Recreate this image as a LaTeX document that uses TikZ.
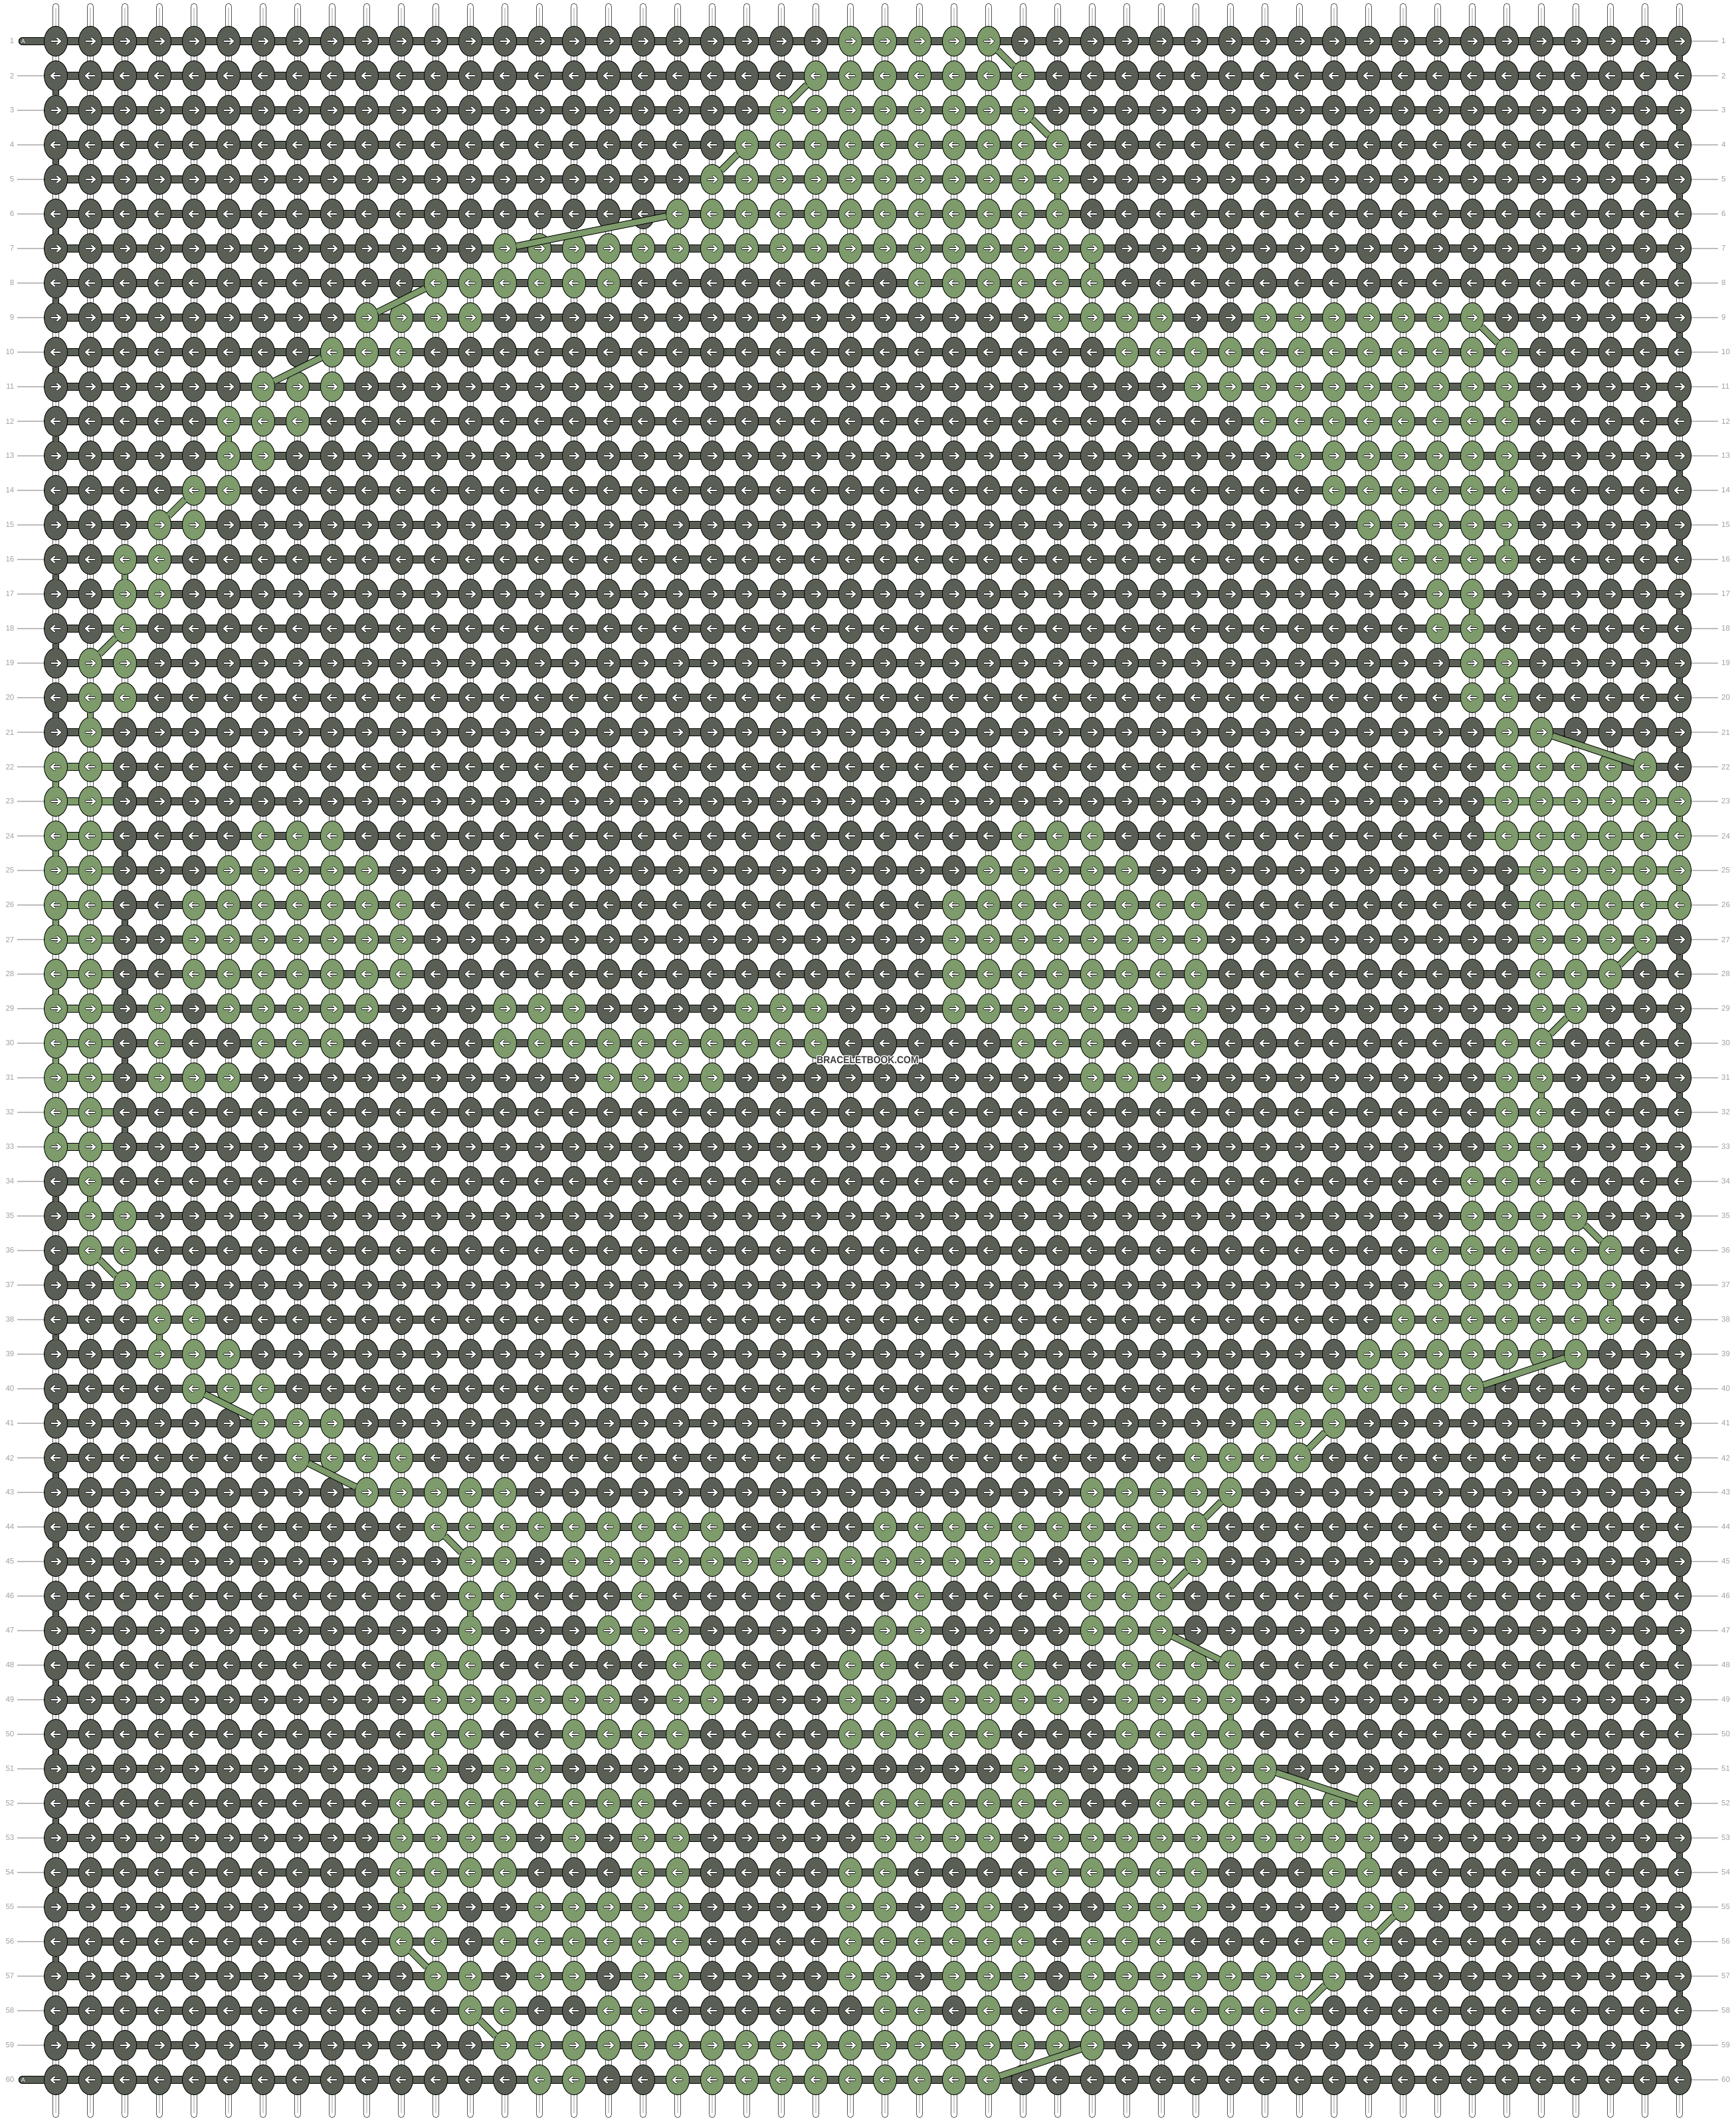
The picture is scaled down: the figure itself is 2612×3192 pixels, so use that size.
\documentclass[tikz,border=0pt]{standalone}
\usepackage{fontspec}
\setmainfont{Liberation Sans}
\definecolor{kdark}{HTML}{5A5F56}
\definecolor{kgreen}{HTML}{7D9B6B}
\definecolor{lblgray}{HTML}{A0A0A0}
\definecolor{lnggray}{HTML}{BDBDBD}
\definecolor{strout}{HTML}{555555}
\definecolor{strmid}{HTML}{D0D0D0}
\definecolor{wmdark}{HTML}{3C3C3C}
\tikzset{
  knotr/.style={x radius=17.5pt, y radius=22.5pt},
  knotdark/.style={fill=kdark, draw=black, line width=0.9pt},
  knotgreen/.style={fill=kgreen, draw=black, line width=0.9pt},
  barout/.style={draw=black, line width=12.5pt},
  bardark/.style={draw=kdark, line width=10.3pt},
  bargreen/.style={draw=kgreen, line width=10.3pt},
  conout/.style={draw=black, line width=10.5pt},
  condark/.style={draw=kdark, line width=8.5pt},
  congreen/.style={draw=kgreen, line width=8.5pt},
  strouter/.style={draw=strout, line width=10.5pt, line cap=round},
  strinner/.style={draw=white, line width=8.5pt, line cap=round},
  strcenter/.style={draw=strmid, line width=1.2pt},
  arrowbg/.style={draw=black, line width=3.6pt, line cap=round, line join=round},
  arrowfg/.style={draw=white, line width=2.3pt, line cap=round, line join=round},
  lblline/.style={draw=lnggray, line width=1.2pt},
  lbltext/.style={text=lblgray, font=\fontsize{11.5}{12}\selectfont, inner sep=0pt},
  leadout/.style={draw=black, line width=12.5pt, line cap=round},
  leadin/.style={draw=kdark, line width=10.3pt, line cap=round},
  leadtext/.style={text=white, font=\fontsize{9}{10}\selectfont, inner sep=0pt},
  wmark/.style={font=\fontsize{15.3}{16}\selectfont\bfseries, inner sep=0pt},
}
\ExplSyntaxOn
\intarray_new:Nn \g_pat_cell_intarray {2880}
\intarray_new:Nn \g_pat_gmin_intarray {60}
\intarray_new:Nn \g_pat_gmax_intarray {60}
\intarray_new:Nn \g_pat_dmin_intarray {60}
\intarray_new:Nn \g_pat_dmax_intarray {60}
\seq_new:N \l_pat_split_seq
\int_new:N \l_pat_a_int
\int_new:N \l_pat_b_int
\tl_new:N \l_pat_fg_tl
\tl_new:N \l_pat_dk_tl
\tl_new:N \l_pat_gr_tl
\tl_new:N \l_pat_seg_tl
\fp_new:N \l_pat_xa_fp
\fp_new:N \l_pat_ya_fp
\fp_new:N \l_pat_xb_fp
\fp_new:N \l_pat_yb_fp
\fp_new:N \l_pat_dx_fp
\fp_new:N \l_pat_dy_fp
\fp_new:N \l_pat_t_fp

\cs_new:Npn \pat_cell:nn #1#2
  { \intarray_item:Nn \g_pat_cell_intarray { (#1 - 1) * 48 + (#2) + 1 } }
\cs_new:Npn \pat_x:n #1 { \int_eval:n { 84 + 52 * (#1) } }
\cs_new:Npn \pat_y:n #1 { \int_eval:n { 10 + 52 * (#1) } }

\cs_new_protected:Npn \pat_set_row:nn #1#2
  {
    \clist_map_inline:nn {#2}
      {
        \seq_set_split:Nnn \l_pat_split_seq { - } {##1}
        \int_set:Nn \l_pat_a_int { \seq_item:Nn \l_pat_split_seq {1} }
        \int_set:Nn \l_pat_b_int { \seq_item:Nn \l_pat_split_seq {-1} }
        \int_step_inline:nnn { \l_pat_a_int } { \l_pat_b_int }
          { \intarray_gset:Nnn \g_pat_cell_intarray { (#1 - 1) * 48 + ####1 + 1 } {1} }
      }
  }
\NewDocumentCommand \PatRow { m m } { \pat_set_row:nn {#1} {#2} }

\cs_new_protected:Npn \pat_min:Nnn #1#2#3
  { \int_compare:nNnT {#3} < { \intarray_item:Nn #1 {#2} } { \intarray_gset:Nnn #1 {#2} {#3} } }
\cs_new_protected:Npn \pat_max:Nnn #1#2#3
  { \int_compare:nNnT {#3} > { \intarray_item:Nn #1 {#2} } { \intarray_gset:Nnn #1 {#2} {#3} } }

\cs_new_protected:Npn \pat_compute:
  {
    \int_step_inline:nnn {1} {60}
      {
        \intarray_gset:Nnn \g_pat_gmin_intarray {##1} {99}
        \intarray_gset:Nnn \g_pat_gmax_intarray {##1} {-1}
        \intarray_gset:Nnn \g_pat_dmin_intarray {##1} {99}
        \intarray_gset:Nnn \g_pat_dmax_intarray {##1} {-1}
        \int_step_inline:nnn {0} {47}
          {
            \int_compare:nNnTF { \pat_cell:nn {##1} {####1} } = {1}
              {
                \pat_min:Nnn \g_pat_gmin_intarray {##1} {####1}
                \pat_max:Nnn \g_pat_gmax_intarray {##1} {####1}
              }
              {
                \pat_min:Nnn \g_pat_dmin_intarray {##1} {####1}
                \pat_max:Nnn \g_pat_dmax_intarray {##1} {####1}
              }
          }
      }
  }

\cs_new:Npn \pat_gstart:n #1
  { \int_if_odd:nTF {#1} { \intarray_item:Nn \g_pat_gmin_intarray {#1} } { \intarray_item:Nn \g_pat_gmax_intarray {#1} } }
\cs_new:Npn \pat_gend:n #1
  { \int_if_odd:nTF {#1} { \intarray_item:Nn \g_pat_gmax_intarray {#1} } { \intarray_item:Nn \g_pat_gmin_intarray {#1} } }
\cs_new:Npn \pat_dstart:n #1
  { \int_if_odd:nTF {#1} { \intarray_item:Nn \g_pat_dmin_intarray {#1} } { \intarray_item:Nn \g_pat_dmax_intarray {#1} } }
\cs_new:Npn \pat_dend:n #1
  { \int_if_odd:nTF {#1} { \intarray_item:Nn \g_pat_dmax_intarray {#1} } { \intarray_item:Nn \g_pat_dmin_intarray {#1} } }

\cs_new:Npn \pat_arrow:nn #1#2
  {
    \int_if_odd:nTF {#1}
      { \pat_arrow_aux:nnn { \pat_x:n {#2} } { \pat_y:n {#1} } { 1 } }
      { \pat_arrow_aux:nnn { \pat_x:n {#2} } { \pat_y:n {#1} } { -1 } }
  }
\cs_new:Npn \pat_arrow_aux:nnn #1#2#3
  {
    ( \fp_eval:n { #1 - 6.5 * (#3) } , #2 ) -- ( \fp_eval:n { #1 + 6.5 * (#3) } , #2 )
    ( \fp_eval:n { #1 + 2 * (#3) } , \fp_eval:n { #2 - 4.5 } ) -- ( \fp_eval:n { #1 + 7 * (#3) } , #2 ) -- ( \fp_eval:n { #1 + 2 * (#3) } , \fp_eval:n { #2 + 4.5 } )
  }

\cs_new_protected:Npn \pat_hbar:nnnn #1#2#3#4
  {
    \use:x { \exp_not:N \draw [barout] ( \pat_x:n {#2} , \pat_y:n {#1} ) -- ( \pat_x:n {#3} , \pat_y:n {#1} ) ; }
    \use:x { \exp_not:N \draw [#4] ( \pat_x:n {#2} , \pat_y:n {#1} ) -- ( \pat_x:n {#3} , \pat_y:n {#1} ) ; }
  }

\cs_new_protected:Npn \pat_conn:nnnn #1#2#3#4
  {
    \fp_set:Nn \l_pat_xa_fp { \pat_x:n {#2} }
    \fp_set:Nn \l_pat_ya_fp { \pat_y:n {#1} }
    \fp_set:Nn \l_pat_xb_fp { \pat_x:n {#3} }
    \fp_set:Nn \l_pat_yb_fp { \pat_y:n { #1 + 1 } }
    \fp_set:Nn \l_pat_dx_fp { \l_pat_xb_fp - \l_pat_xa_fp }
    \fp_set:Nn \l_pat_dy_fp { \l_pat_yb_fp - \l_pat_ya_fp }
    \fp_set:Nn \l_pat_t_fp
      { 1 / sqrt ( (\l_pat_dx_fp / 17.5) * (\l_pat_dx_fp / 17.5) + (\l_pat_dy_fp / 22.5) * (\l_pat_dy_fp / 22.5) ) }
    \tl_set:Nx \l_pat_seg_tl
      {
        ( \fp_eval:n { round ( \l_pat_xa_fp + \l_pat_t_fp * \l_pat_dx_fp , 2 ) } ,
          \fp_eval:n { round ( \l_pat_ya_fp + \l_pat_t_fp * \l_pat_dy_fp , 2 ) } )
        --
        ( \fp_eval:n { round ( \l_pat_xb_fp - \l_pat_t_fp * \l_pat_dx_fp , 2 ) } ,
          \fp_eval:n { round ( \l_pat_yb_fp - \l_pat_t_fp * \l_pat_dy_fp , 2 ) } )
      }
    \use:x { \exp_not:N \draw [conout] \exp_not:V \l_pat_seg_tl ; }
    \use:x { \exp_not:N \draw [#4] \exp_not:V \l_pat_seg_tl ; }
  }

\cs_new_protected:Npn \pat_strings:
  {
    \int_step_inline:nnn {0} {47}
      {
        \use:x { \exp_not:N \draw [strouter] ( \pat_x:n {##1} , 10 ) -- ( \pat_x:n {##1} , 3182 ) ; }
        \use:x { \exp_not:N \draw [strinner] ( \pat_x:n {##1} , 10 ) -- ( \pat_x:n {##1} , 3182 ) ; }
        \use:x { \exp_not:N \draw [strcenter] ( \pat_x:n {##1} , 12 ) -- ( \pat_x:n {##1} , 3180 ) ; }
      }
  }

\cs_new_protected:Npn \pat_labels:
  {
    \int_step_inline:nnn {1} {60}
      {
        \int_compare:nNnF {##1} = {1}
          {
            \int_compare:nNnF {##1} = {60}
              { \use:x { \exp_not:N \draw [lblline] ( 26 , \pat_y:n {##1} ) -- ( 84 , \pat_y:n {##1} ) ; } }
          }
        \use:x { \exp_not:N \draw [lblline] ( 2528 , \pat_y:n {##1} ) -- ( 2586 , \pat_y:n {##1} ) ; }
        \use:x { \exp_not:N \node [lbltext, anchor=east] ( ll - ##1 ) at ( 21.5 , \pat_y:n {##1} ) {##1} ; }
        \use:x { \exp_not:N \node [lbltext, anchor=west] ( rl - ##1 ) at ( 2591 , \pat_y:n {##1} ) {##1} ; }
      }
  }

\cs_new_protected:Npn \pat_bars:
  {
    \int_step_inline:nnn {1} {60}
      {
        \int_compare:nNnT { \intarray_item:Nn \g_pat_gmax_intarray {##1} } > { -1 }
          {
            \pat_hbar:nnnn {##1}
              { \intarray_item:Nn \g_pat_gmin_intarray {##1} }
              { \intarray_item:Nn \g_pat_gmax_intarray {##1} } {bargreen}
          }
        \int_compare:nNnT { \intarray_item:Nn \g_pat_dmax_intarray {##1} } > { -1 }
          {
            \pat_hbar:nnnn {##1}
              { \intarray_item:Nn \g_pat_dmin_intarray {##1} }
              { \intarray_item:Nn \g_pat_dmax_intarray {##1} } {bardark}
          }
      }
  }

\cs_new_protected:Npn \pat_knots:
  {
    \int_step_inline:nnn {1} {60}
      {
        \tl_clear:N \l_pat_fg_tl
        \tl_clear:N \l_pat_dk_tl
        \tl_clear:N \l_pat_gr_tl
        \int_step_inline:nnn {0} {47}
          {
            \int_compare:nNnTF { \pat_cell:nn {##1} {####1} } = {1}
              { \tl_put_right:Nx \l_pat_gr_tl { ( \pat_x:n {####1} , \pat_y:n {##1} ) ellipse [knotr] } }
              { \tl_put_right:Nx \l_pat_dk_tl { ( \pat_x:n {####1} , \pat_y:n {##1} ) ellipse [knotr] } }
            \tl_put_right:Nx \l_pat_fg_tl { \pat_arrow:nn {##1} {####1} }
          }
        \tl_if_empty:NF \l_pat_dk_tl { \use:x { \exp_not:N \path [knotdark] \exp_not:V \l_pat_dk_tl ; } }
        \tl_if_empty:NF \l_pat_gr_tl { \use:x { \exp_not:N \path [knotgreen] \exp_not:V \l_pat_gr_tl ; } }
        \use:x { \exp_not:N \draw [arrowbg] \exp_not:V \l_pat_fg_tl ; }
        \use:x { \exp_not:N \draw [arrowfg] \exp_not:V \l_pat_fg_tl ; }
      }
  }

\cs_new_protected:Npn \pat_conns:
  {
    \int_step_inline:nnn {1} {59}
      {
        \int_compare:nNnT { \intarray_item:Nn \g_pat_gmax_intarray {##1} } > { -1 }
          {
            \int_compare:nNnT { \intarray_item:Nn \g_pat_gmax_intarray { ##1 + 1 } } > { -1 }
              { \pat_conn:nnnn {##1} { \pat_gend:n {##1} } { \pat_gstart:n { ##1 + 1 } } {congreen} }
          }
        \int_compare:nNnT { \intarray_item:Nn \g_pat_dmax_intarray {##1} } > { -1 }
          {
            \int_compare:nNnT { \intarray_item:Nn \g_pat_dmax_intarray { ##1 + 1 } } > { -1 }
              { \pat_conn:nnnn {##1} { \pat_dend:n {##1} } { \pat_dstart:n { ##1 + 1 } } {condark} }
          }
      }
  }

\NewDocumentCommand \PatCompute {} { \pat_compute: }
\NewDocumentCommand \PatStrings {} { \pat_strings: }
\NewDocumentCommand \PatLabels {} { \pat_labels: }
\NewDocumentCommand \PatBars {} { \pat_bars: }
\NewDocumentCommand \PatKnots {} { \pat_knots: }
\NewDocumentCommand \PatConns {} { \pat_conns: }
\ExplSyntaxOff

\PatRow{1}{23-27}
\PatRow{2}{22-28}
\PatRow{3}{21-28}
\PatRow{4}{20-29}
\PatRow{5}{19-29}
\PatRow{6}{18-29}
\PatRow{7}{13-30}
\PatRow{8}{11-16,25-30}
\PatRow{9}{9-12,29-32,35-41}
\PatRow{10}{8-10,31-42}
\PatRow{11}{6-8,33-42}
\PatRow{12}{5-7,35-42}
\PatRow{13}{5-6,36-42}
\PatRow{14}{4-5,37-42}
\PatRow{15}{3-4,38-42}
\PatRow{16}{2-3,39-42}
\PatRow{17}{2-3,40-41}
\PatRow{18}{2,40-41}
\PatRow{19}{1-2,41-42}
\PatRow{20}{1-2,41-42}
\PatRow{21}{1,42-43}
\PatRow{22}{0-1,42-46}
\PatRow{23}{0-1,42-47}
\PatRow{24}{0-1,6-8,28-30,42-47}
\PatRow{25}{0-1,5-9,27-31,43-47}
\PatRow{26}{0-1,4-10,26-33,43-47}
\PatRow{27}{0-1,4-10,26-33,43-46}
\PatRow{28}{0-1,4-10,26-33,43-45}
\PatRow{29}{0-1,3,5-9,13-15,20-22,26-31,33,43-44}
\PatRow{30}{0-1,3,6-8,13-22,28-30,33,42-43}
\PatRow{31}{0-1,3-5,16-19,30-32,42-43}
\PatRow{32}{0-1,42-43}
\PatRow{33}{0-1,42-43}
\PatRow{34}{1,41-43}
\PatRow{35}{1-2,41-44}
\PatRow{36}{1-2,40-45}
\PatRow{37}{2-3,40-45}
\PatRow{38}{3-4,39-45}
\PatRow{39}{3-5,38-44}
\PatRow{40}{4-6,37-41}
\PatRow{41}{6-8,35-37}
\PatRow{42}{7-10,33-36}
\PatRow{43}{9-13,30-34}
\PatRow{44}{11-19,24-33}
\PatRow{45}{12-13,15-28,30-33}
\PatRow{46}{12-13,17,25,30-32}
\PatRow{47}{12,16-18,24-25,30-32}
\PatRow{48}{11-12,18-19,23-24,28,31-34}
\PatRow{49}{11-16,18-19,23-24,26-29,31-34}
\PatRow{50}{11-12,15-18,23-27,31-34}
\PatRow{51}{11,13-14,28,32-35}
\PatRow{52}{10-17,24-29,32-38}
\PatRow{53}{10-13,15,17-18,24-27,29-38}
\PatRow{54}{10-13,17-18,23-24,29-33,37-38}
\PatRow{55}{10-11,14-18,23-24,26-27,31-33,38-39}
\PatRow{56}{10-11,13-18,23-28,30-32,37-38}
\PatRow{57}{11-12,14-15,17-18,23-24,26-28,30-37}
\PatRow{58}{12-13,16-17,24-25,27,29-36}
\PatRow{59}{13-30}
\PatRow{60}{14-15,18-27}

\begin{document}
\begin{tikzpicture}[x=1pt,y=-1pt]
\useasboundingbox (0,0) rectangle (2612,3192);
\fill[white] (0,0) rectangle (2612,3192);
\PatCompute
\PatStrings
\PatLabels
\PatBars
\draw[leadout] (34,62) -- (84,62);
\draw[leadin] (34,62) -- (84,62);
\draw[leadout] (34,3130) -- (84,3130);
\draw[leadin] (34,3130) -- (84,3130);
\PatKnots
\PatConns
\node[leadtext] (leadA1) at (35,62) {A};
\node[leadtext] (leadA60) at (35,3130) {A};
\foreach \dx/\dy [count=\i] in {-1.3/0,1.3/0,0/-1.3,0/1.3,-1/-1,1/1,-1/1,1/-1}
  \node[wmark, text=white] (wmh\i) at (1306+\dx,1595.5+\dy) {\scalebox{0.905}[1]{BRACELETBOOK.COM}};
\node[wmark, text=wmdark] (wm) at (1306,1595.5) {\scalebox{0.905}[1]{BRACELETBOOK.COM}};
\end{tikzpicture}
\end{document}
